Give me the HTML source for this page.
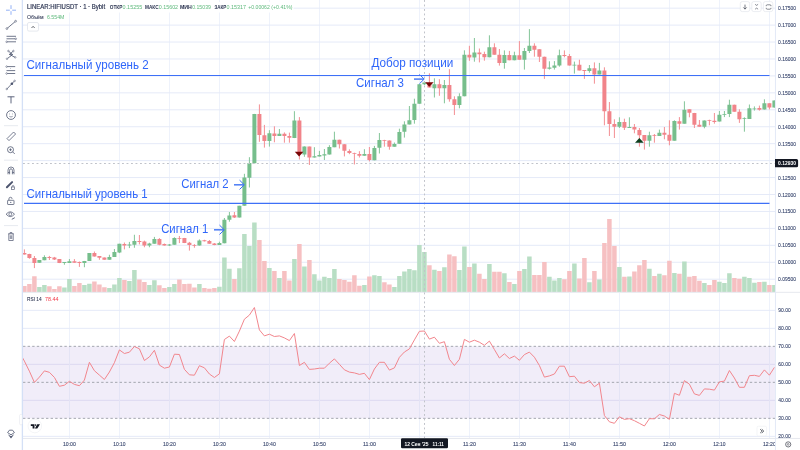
<!DOCTYPE html><html><head><meta charset="utf-8"><title>LINEAR:HIFIUSDT</title><style>
html,body{margin:0;padding:0;background:#fff;}
body{width:800px;height:450px;overflow:hidden;position:relative;font-family:'Liberation Sans', 'DejaVu Sans', sans-serif;}
svg{position:absolute;left:0;top:0;display:block;}
text{font-family:'Liberation Sans', 'DejaVu Sans', sans-serif;}
</style></head><body>
<svg width="800" height="450" viewBox="0 0 800 450">
<defs><clipPath id="cp"><rect x="23" y="0" width="752" height="292"/></clipPath><clipPath id="cr"><rect x="23" y="293" width="752" height="145"/></clipPath><clipPath id="cax"><rect x="776" y="293" width="24" height="145"/></clipPath><clipPath id="ct"><rect x="23" y="438" width="752" height="12"/></clipPath></defs>
<path d="M69.5 0V292M69.5 293V438M119.5 0V292M119.5 293V438M169.5 0V292M169.5 293V438M219.5 0V292M219.5 293V438M269.5 0V292M269.5 293V438M319.5 0V292M319.5 293V438M369.5 0V292M369.5 293V438M419.5 0V292M419.5 293V438M469.5 0V292M469.5 293V438M519.5 0V292M519.5 293V438M569.5 0V292M569.5 293V438M619.5 0V292M619.5 293V438M669.5 0V292M669.5 293V438M719.5 0V292M719.5 293V438M769.5 0V292M769.5 293V438" stroke="#eef2fb" stroke-width="1" fill="none"/>
<path d="M23 8.16H775M23 25.1H775M23 42.04H775M23 58.98H775M23 75.92H775M23 92.86H775M23 109.8H775M23 126.74H775M23 143.68H775M23 160.62H775M23 177.56H775M23 194.5H775M23 211.44H775M23 228.38H775M23 245.32H775M23 262.26H775M23 279.2H775M23 310.33H775M23 328.33H775M23 364.33H775M23 400.33H775M23 436.33H775" stroke="#e5eaf8" stroke-width="1" fill="none"/>
<rect x="23" y="346.33" width="752" height="72" fill="#f1edf9"/>
<path d="M23 364.33H775M23 400.33H775" stroke="#ddd9f1" stroke-width="1"/>
<path d="M69.5 346.33V418.33M119.5 346.33V418.33M169.5 346.33V418.33M219.5 346.33V418.33M269.5 346.33V418.33M319.5 346.33V418.33M369.5 346.33V418.33M419.5 346.33V418.33M469.5 346.33V418.33M519.5 346.33V418.33M569.5 346.33V418.33M619.5 346.33V418.33M669.5 346.33V418.33M719.5 346.33V418.33M769.5 346.33V418.33" stroke="#e4e4f5" stroke-width="1"/>
<path d="M23 346.33H775M23 382.33H775M23 418.33H775" stroke="#a3a6af" stroke-width="1" stroke-dasharray="2.4 2.2"/>
<g clip-path="url(#cp)">
<path d="M37.15 286.9h4.5V292h-4.5zM42.15 285h4.5V292h-4.5zM62.15 287.5h4.5V292h-4.5zM67.15 279.1h4.5V292h-4.5zM82.15 285h4.5V292h-4.5zM87.15 283.75h4.5V292h-4.5zM107.15 287.9h4.5V292h-4.5zM112.15 284.4h4.5V292h-4.5zM117.15 278h4.5V292h-4.5zM127.15 281h4.5V292h-4.5zM132.15 270h4.5V292h-4.5zM147.15 285h4.5V292h-4.5zM152.15 280.25h4.5V292h-4.5zM167.15 286.9h4.5V292h-4.5zM172.15 284h4.5V292h-4.5zM197.15 284h4.5V292h-4.5zM217.15 286.7h4.5V292h-4.5zM222.15 257.4h4.5V292h-4.5zM227.15 268.8h4.5V292h-4.5zM237.15 268.2h4.5V292h-4.5zM242.15 234h4.5V292h-4.5zM247.15 245.9h4.5V292h-4.5zM252.15 222.4h4.5V292h-4.5zM267.15 267.9h4.5V292h-4.5zM277.15 278.1h4.5V292h-4.5zM292.15 258.9h4.5V292h-4.5zM302.15 266.6h4.5V292h-4.5zM312.15 274.2h4.5V292h-4.5zM317.15 280.4h4.5V292h-4.5zM322.15 276.8h4.5V292h-4.5zM327.15 278.1h4.5V292h-4.5zM332.15 269.1h4.5V292h-4.5zM362.15 284.9h4.5V292h-4.5zM372.15 275.2h4.5V292h-4.5zM377.15 276h4.5V292h-4.5zM392.15 287.1h4.5V292h-4.5zM397.15 276h4.5V292h-4.5zM402.15 271.6h4.5V292h-4.5zM407.15 269.1h4.5V292h-4.5zM412.15 270.2h4.5V292h-4.5zM417.15 245h4.5V292h-4.5zM422.15 252h4.5V292h-4.5zM432.15 269.7h4.5V292h-4.5zM442.15 267.3h4.5V292h-4.5zM457.15 270h4.5V292h-4.5zM462.15 246.6h4.5V292h-4.5zM472.15 263.4h4.5V292h-4.5zM487.15 263.9h4.5V292h-4.5zM502.15 273.3h4.5V292h-4.5zM512.15 284h4.5V292h-4.5zM522.15 269.1h4.5V292h-4.5zM527.15 256.5h4.5V292h-4.5zM547.15 276.8h4.5V292h-4.5zM552.15 280.4h4.5V292h-4.5zM557.15 278.1h4.5V292h-4.5zM572.15 263.4h4.5V292h-4.5zM587.15 282.2h4.5V292h-4.5zM597.15 279.5h4.5V292h-4.5zM617.15 267h4.5V292h-4.5zM627.15 276.5h4.5V292h-4.5zM647.15 268.8h4.5V292h-4.5zM657.15 273.8h4.5V292h-4.5zM672.15 272.9h4.5V292h-4.5zM682.15 261.6h4.5V292h-4.5zM702.15 283.1h4.5V292h-4.5zM717.15 281.7h4.5V292h-4.5zM722.15 283.1h4.5V292h-4.5zM727.15 273.3h4.5V292h-4.5zM742.15 276.8h4.5V292h-4.5zM747.15 278.1h4.5V292h-4.5zM752.15 282.8h4.5V292h-4.5zM762.15 281.7h4.5V292h-4.5zM772.15 284.9h4.5V292h-4.5z" fill="#b8dec4"/>
<path d="M22.15 286h4.5V292h-4.5zM27.15 284h4.5V292h-4.5zM32.15 276.25h4.5V292h-4.5zM47.15 286.25h4.5V292h-4.5zM52.15 289h4.5V292h-4.5zM57.15 286.25h4.5V292h-4.5zM72.15 286h4.5V292h-4.5zM77.15 282.9h4.5V292h-4.5zM92.15 281.6h4.5V292h-4.5zM97.15 284.4h4.5V292h-4.5zM102.15 287.25h4.5V292h-4.5zM122.15 280h4.5V292h-4.5zM137.15 279.5h4.5V292h-4.5zM142.15 282h4.5V292h-4.5zM157.15 285.25h4.5V292h-4.5zM162.15 287.9h4.5V292h-4.5zM177.15 279.4h4.5V292h-4.5zM182.15 284h4.5V292h-4.5zM187.15 283.75h4.5V292h-4.5zM192.15 287.5h4.5V292h-4.5zM202.15 287.9h4.5V292h-4.5zM207.15 288.75h4.5V292h-4.5zM212.15 288.1h4.5V292h-4.5zM232.15 279h4.5V292h-4.5zM257.15 240h4.5V292h-4.5zM262.15 261h4.5V292h-4.5zM272.15 270.9h4.5V292h-4.5zM282.15 270.9h4.5V292h-4.5zM287.15 280.4h4.5V292h-4.5zM297.15 243.9h4.5V292h-4.5zM307.15 260.1h4.5V292h-4.5zM337.15 279h4.5V292h-4.5zM342.15 279.9h4.5V292h-4.5zM347.15 281.7h4.5V292h-4.5zM352.15 275.2h4.5V292h-4.5zM357.15 285.8h4.5V292h-4.5zM367.15 276.5h4.5V292h-4.5zM382.15 282.2h4.5V292h-4.5zM387.15 284.6h4.5V292h-4.5zM427.15 265.2h4.5V292h-4.5zM437.15 270.9h4.5V292h-4.5zM447.15 254.4h4.5V292h-4.5zM452.15 256.2h4.5V292h-4.5zM467.15 267h4.5V292h-4.5zM477.15 273.8h4.5V292h-4.5zM482.15 279h4.5V292h-4.5zM492.15 271.8h4.5V292h-4.5zM497.15 271.8h4.5V292h-4.5zM507.15 281.9h4.5V292h-4.5zM517.15 270.9h4.5V292h-4.5zM532.15 275h4.5V292h-4.5zM537.15 275h4.5V292h-4.5zM542.15 261.9h4.5V292h-4.5zM562.15 279.2h4.5V292h-4.5zM567.15 270.9h4.5V292h-4.5zM577.15 278.6h4.5V292h-4.5zM582.15 258h4.5V292h-4.5zM592.15 271h4.5V292h-4.5zM602.15 243h4.5V292h-4.5zM607.15 218.9h4.5V292h-4.5zM612.15 245.9h4.5V292h-4.5zM622.15 276.8h4.5V292h-4.5zM632.15 271.6h4.5V292h-4.5zM637.15 265.3h4.5V292h-4.5zM642.15 260.1h4.5V292h-4.5zM652.15 276h4.5V292h-4.5zM662.15 275.2h4.5V292h-4.5zM667.15 260.8h4.5V292h-4.5zM677.15 273.8h4.5V292h-4.5zM687.15 276.7h4.5V292h-4.5zM692.15 276h4.5V292h-4.5zM697.15 280.8h4.5V292h-4.5zM707.15 284.9h4.5V292h-4.5zM712.15 279.9h4.5V292h-4.5zM732.15 278.1h4.5V292h-4.5zM737.15 278.8h4.5V292h-4.5zM757.15 281.9h4.5V292h-4.5zM767.15 284.9h4.5V292h-4.5z" fill="#f6c0c2"/>
<path d="M39.4 260V262.75M44.4 255.3V260.25M64.4 262.1V264.75M69.4 259V262.9M84.4 260.9V267.25M89.4 253V260.9M109.4 254.75V259.75M114.4 249V256.9M119.4 243.75V253.1M129.4 241.9V248.1M134.4 234.75V247.75M149.4 242.75V247.25M154.4 236.9V243.75M169.4 244V246M174.4 237.25V244.75M199.4 239.4V245.6M219.4 241.7V245M224.4 218V243.3M229.4 212V221.7M239.4 205.8V217.5M244.4 173.8V205.8M249.4 157.2V187.5M254.4 113.9V163.3M269.4 130.2V146.6M279.4 129V135.9M294.4 111.2V138.1M304.4 146.4V156.8M314.4 147.2V157.6M319.4 150.9V156.4M324.4 149V160M329.4 145.2V154.6M334.4 131.7V147.2M364.4 149.2V155.8M374.4 145.9V160.3M379.4 133V153.5M394.4 142.5V146.7M399.4 128.7V143.7M404.4 121.3V137.6M409.4 106V124.4M414.4 98.7V123.7M419.4 84.2V103.8M424.4 81.3V85M434.4 78.3V97.5M444.4 80V103.3M459.4 93.3V108.3M464.4 50.3V96.3M474.4 38V61.7M489.4 35.3V57.3M504.4 50.4V68.7M514.4 51.7V60.3M524.4 48V69.6M529.4 29.1V53M549.4 61.3V69.6M554.4 61.1V69.6M559.4 49.6V66.7M574.4 61.6V73.6M589.4 65V72.7M599.4 62.9V74.4M619.4 117.3V128M629.4 117.3V128M649.4 131.7V146.7M659.4 129.6V136M674.4 120.3V140.7M684.4 101.3V123.7M704.4 120.4V128.3M719.4 111V121.6M724.4 111V117.1M729.4 99.7V117.1M744.4 117.3V131.7M749.4 104.5V118.9M754.4 106.4V110.6M764.4 99.3V109.6M774.4 100.5V107.6" stroke="#82c498" stroke-width="1" fill="none"/>
<path d="M24.4 249.4V254.6M29.4 253.75V258.75M34.4 256V268.1M49.4 255.9V260M54.4 256.9V260M59.4 259.1V263.1M74.4 259.1V262.75M79.4 261.5V266.9M94.4 251.5V256.6M99.4 256V259.75M104.4 257.5V259.75M124.4 242.5V249.4M139.4 235V244.4M144.4 240.6V247.25M159.4 238.1V245.25M164.4 243.5V245.6M179.4 236V243.1M184.4 237.9V243.1M189.4 241.9V250.6M194.4 244.1V247.75M204.4 239.75V241.5M209.4 240V243.75M214.4 243V245.25M234.4 212V218M259.4 104.4V141.8M264.4 124.9V147.6M274.4 126.3V142.3M284.4 132.4V142.7M289.4 132.6V142.7M299.4 117.1V159.5M309.4 146.6V165M339.4 139.7V148.5M344.4 144.2V156.4M349.4 149.3V154.2M354.4 152.7V164.5M359.4 151.2V157.5M369.4 147V161.4M384.4 139.8V146.7M389.4 140.4V149.7M429.4 73.3V87.5M439.4 79.2V95.8M449.4 69.2V101.7M454.4 96.3V115M469.4 45.8V60.8M479.4 48.5V62.4M484.4 51.7V60.7M494.4 43.3V54.7M499.4 49V65.6M509.4 50.9V60.3M519.4 41.1V59.7M534.4 43.3V56.7M539.4 49.3V62M544.4 56.7V78.9M564.4 50.4V57.3M569.4 54V65.6M579.4 59.7V70.4M584.4 70V78.9M594.4 62.4V83.7M604.4 67.3V125.3M609.4 102V136M614.4 119.3V138M624.4 118.7V130M634.4 124V133.3M639.4 128V146.7M644.4 135V149.6M654.4 134V142.7M664.4 127V139.3M669.4 120.3V145.3M679.4 117.1V129.6M689.4 109.3V117.3M694.4 112.9V128M699.4 120V126.7M709.4 119.7V125.3M714.4 113V123.7M734.4 104.7V111.7M739.4 109.3V122.9M759.4 105.6V110.6M769.4 103.3V109.4" stroke="#f38e93" stroke-width="1" fill="none"/>
<path d="M37.4 260h4v2.75h-4zM42.4 257.1h4v3.15h-4zM62.4 262.1h4v0.8h-4zM67.4 261.25h4v1.65h-4zM82.4 260.9h4v2.2h-4zM87.4 253h4v7.9h-4zM107.4 256.9h4v2.85h-4zM112.4 252.1h4v4.8h-4zM117.4 243.75h4v8.75h-4zM127.4 244.6h4v1h-4zM132.4 241h4v3.75h-4zM147.4 243.5h4v1.9h-4zM152.4 239.1h4v4.65h-4zM167.4 244.6h4v1h-4zM172.4 237.9h4v6.85h-4zM197.4 240.4h4v5.2h-4zM217.4 243h4v2h-4zM222.4 219.7h4v23.6h-4zM227.4 215.5h4v4.2h-4zM237.4 205.8h4v11.7h-4zM242.4 177.5h4v28.3h-4zM247.4 163.1h4v14.6h-4zM252.4 113.9h4v49.4h-4zM267.4 133.2h4v7.7h-4zM277.4 133.8h4v2.1h-4zM292.4 120.4h4v17.7h-4zM302.4 146.4h4v8.2h-4zM312.4 156.2h4v1.4h-4zM317.4 154.9h4v1.5h-4zM322.4 154.2h4v1.2h-4zM327.4 146.9h4v7.7h-4zM332.4 139.7h4v7.5h-4zM362.4 154h4v1.8h-4zM372.4 148h4v12.3h-4zM377.4 140h4v7.8h-4zM392.4 144h4v2.7h-4zM397.4 132h4v11.7h-4zM402.4 124.4h4v7.3h-4zM407.4 120.3h4v4.1h-4zM412.4 103.8h4v16.2h-4zM417.4 84.2h4v19.6h-4zM422.4 82.5h4v1.7h-4zM432.4 84.2h4v4.1h-4zM442.4 85h4v3.3h-4zM457.4 96.3h4v8.7h-4zM462.4 54.7h4v41.6h-4zM472.4 52.5h4v5h-4zM487.4 47.3h4v10h-4zM502.4 54.9h4v8h-4zM512.4 55.3h4v5h-4zM522.4 50.9h4v8.8h-4zM527.4 45.7h4v5.2h-4zM547.4 67.5h4v1.2h-4zM552.4 65.5h4v2.3h-4zM557.4 55.3h4v10.3h-4zM572.4 64.7h4v0.9h-4zM587.4 68.3h4v2.6h-4zM597.4 70.4h4v4h-4zM617.4 122h4v4.7h-4zM627.4 127h4v1h-4zM647.4 135.3h4v5.4h-4zM657.4 132.7h4v3.3h-4zM672.4 121h4v19.7h-4zM682.4 109.7h4v14h-4zM702.4 120.4h4v6.3h-4zM717.4 114.7h4v6.9h-4zM722.4 114h4v0.8h-4zM727.4 104.7h4v9.3h-4zM742.4 118.3h4v0.8h-4zM747.4 108.3h4v10.6h-4zM752.4 108.4h4v0.8h-4zM762.4 103.3h4v6.3h-4zM772.4 100.5h4v7.1h-4z" fill="#76be8c"/>
<path d="M22.4 252.9h4v1.7h-4zM27.4 254.1h4v4h-4zM32.4 258.1h4v4.8h-4zM47.4 256.9h4v1.2h-4zM52.4 257.5h4v1.9h-4zM57.4 259.1h4v4h-4zM72.4 261.25h4v1.5h-4zM77.4 262.1h4v0.8h-4zM92.4 253.1h4v3.5h-4zM97.4 256h4v1.75h-4zM102.4 257.5h4v2.25h-4zM122.4 244.1h4v1.5h-4zM137.4 240.9h4v1h-4zM142.4 241.6h4v3.8h-4zM157.4 239h4v5.75h-4zM162.4 244.1h4v1.5h-4zM177.4 237.9h4v0.85h-4zM182.4 237.9h4v5.2h-4zM187.4 242.75h4v2.25h-4zM192.4 245h4v0.8h-4zM202.4 240.25h4v1h-4zM207.4 241h4v2.75h-4zM212.4 243.5h4v1.6h-4zM232.4 215.2h4v2.3h-4zM257.4 113.9h4v21.1h-4zM262.4 135.2h4v5.7h-4zM272.4 133.4h4v2.5h-4zM282.4 133.8h4v2.1h-4zM287.4 135.9h4v1.9h-4zM297.4 120.4h4v32.3h-4zM307.4 146.6h4v11h-4zM337.4 139.7h4v4.5h-4zM342.4 144.2h4v6.5h-4zM347.4 151.1h4v2h-4zM352.4 153h4v0.8h-4zM357.4 153.9h4v1.9h-4zM367.4 153.9h4v6.1h-4zM382.4 140h4v0.8h-4zM387.4 140.4h4v6.3h-4zM427.4 83h4v4.5h-4zM437.4 84.2h4v4.1h-4zM447.4 85h4v14.2h-4zM452.4 99.2h4v5.8h-4zM467.4 54.7h4v2.8h-4zM477.4 52.4h4v1.9h-4zM482.4 54h4v3.3h-4zM492.4 47.3h4v7.4h-4zM497.4 54.7h4v8.2h-4zM507.4 55.1h4v5.2h-4zM517.4 55.3h4v4.4h-4zM532.4 45.7h4v4h-4zM537.4 49.3h4v7.4h-4zM542.4 56.7h4v12h-4zM562.4 55.1h4v0.9h-4zM567.4 56h4v9.6h-4zM577.4 64.7h4v5.7h-4zM582.4 70h4v0.9h-4zM592.4 68.3h4v6.1h-4zM602.4 70.4h4v40.9h-4zM607.4 111.3h4v12.7h-4zM612.4 124h4v2.7h-4zM622.4 122h4v5.7h-4zM632.4 127h4v2.6h-4zM637.4 130h4v5.3h-4zM642.4 135h4v5.7h-4zM652.4 135h4v0.8h-4zM662.4 132.7h4v2h-4zM667.4 134.7h4v6h-4zM677.4 121.3h4v2.4h-4zM687.4 109.3h4v3.4h-4zM692.4 112.9h4v11.8h-4zM697.4 124.7h4v2h-4zM707.4 120h4v0.8h-4zM712.4 120.7h4v1.3h-4zM732.4 104.7h4v7h-4zM737.4 111.7h4v7.6h-4zM757.4 108h4v1.7h-4zM767.4 103.3h4v4.3h-4z" fill="#f1848a"/>
</g>
<g clip-path="url(#cr)"><polyline points="21,355 24.4,361.1 29.4,371.2 34.4,382.4 39.4,377.1 44.4,370.9 49.4,372.3 54.4,377.4 59.4,386.3 64.4,385.2 69.4,381.3 74.4,384.4 79.4,385.7 84.4,380.1 89.4,362.3 94.4,370.7 99.4,375.1 104.4,379.5 109.4,372 114.4,362.7 119.4,349.9 124.4,353.5 129.4,352.2 134.4,346.5 139.4,348.8 144.4,360.5 149.4,356.9 154.4,350.3 159.4,365.1 164.4,368.2 169.4,367 174.4,354.2 179.4,354.5 184.4,369.3 189.4,374.8 194.4,375.2 199.4,365.7 204.4,367.8 209.4,374 214.4,377.5 219.4,373.8 224.4,339.5 229.4,336.1 234.4,341.5 239.4,331.1 244.4,319.2 249.4,315.1 254.4,307.5 259.4,329.9 264.4,335.9 269.4,334.2 274.4,336.5 279.4,335.9 284.4,337.9 289.4,340.6 294.4,333.5 299.4,365.5 304.4,362.3 309.4,369.4 314.4,369 319.4,368.2 324.4,368.2 329.4,363.2 334.4,358.9 339.4,364.3 344.4,369.8 349.4,372.1 354.4,372.9 359.4,374.4 364.4,373.3 369.4,379.6 374.4,369 379.4,362.3 384.4,362.3 389.4,370.1 394.4,367.9 399.4,357.3 404.4,352 409.4,348.9 414.4,339.9 419.4,331.3 424.4,331 429.4,339.1 434.4,337.2 439.4,343.3 444.4,341.7 449.4,359.3 454.4,365.5 459.4,359.3 464.4,339.4 469.4,342.2 474.4,340.2 479.4,342.2 484.4,345.3 489.4,341.1 494.4,349.5 499.4,358 504.4,353.8 509.4,358.5 514.4,356.1 519.4,360.3 524.4,354.6 529.4,352.1 534.4,357.2 539.4,365.5 544.4,377.1 549.4,375.9 554.4,374 559.4,366.2 564.4,366.2 569.4,376.7 574.4,376.2 579.4,382.6 584.4,383.2 589.4,380.5 594.4,386.8 599.4,383.2 604.4,415.5 609.4,421.8 614.4,423.3 619.4,416.8 624.4,419.4 629.4,418.7 634.4,420.7 639.4,423.3 644.4,426 649.4,418.7 654.4,418.8 659.4,414.5 664.4,416 669.4,419.4 674.4,393.3 679.4,395.3 684.4,380.6 689.4,384.2 694.4,393.9 699.4,395.4 704.4,388.9 709.4,389.2 714.4,390.1 719.4,381.9 724.4,381.1 729.4,370.5 734.4,378 739.4,387.3 744.4,387.3 749.4,375.7 754.4,375.3 759.4,376.4 764.4,369.9 769.4,375.2 774.4,367.4" fill="none" stroke="#f2868d" stroke-width="1" stroke-linejoin="round"/></g>
<path d="M23 292.33H800M23 438.44H800" stroke="#e6e8ee" stroke-width="1"/>
<path d="M775.44 0V450" stroke="#e3e9f7" stroke-width="1"/>
<path d="M22.4 0V450" stroke="#d4e0f6" stroke-width="1.3"/>
<path d="M424.5 0V438" stroke="#c0c3ca" stroke-width="1" stroke-dasharray="1.9 2.6"/>
<path d="M23 163.5H775" stroke="#c0c3ca" stroke-width="1" stroke-dasharray="1.9 2.6"/>
<path d="M24 75.5H769.5M24 203.3H769.5" stroke="#3e70f7" stroke-width="1.15"/>
<path d="M294.8 151.8H303.4L299.1 156.4Z" fill="#7a0505"/>
<path d="M425.1 82.2H433.6L429.3 86.7Z" fill="#7a0505"/>
<path d="M635 142.7H643.7L639.35 138Z" fill="#0b3d1c"/>
<path d="M214 229.8H223.7" stroke="#5583f6" stroke-width="1.6" fill="none"/><path d="M219.8 225.4L224.3 229.8L219.8 234.2" stroke="#3b6ff7" stroke-width="1" fill="none" stroke-linecap="round" stroke-linejoin="round"/>
<path d="M234 184.8H243.7" stroke="#5583f6" stroke-width="1.6" fill="none"/><path d="M239.8 180.4L244.3 184.8L239.8 189.2" stroke="#3b6ff7" stroke-width="1" fill="none" stroke-linecap="round" stroke-linejoin="round"/>
<path d="M414 79.1H423.6" stroke="#5583f6" stroke-width="1.6" fill="none"/><path d="M419.7 74.7L424.2 79.1L419.7 83.5" stroke="#3b6ff7" stroke-width="1" fill="none" stroke-linecap="round" stroke-linejoin="round"/>
<text x="26.5" y="68.9" font-size="11.9" fill="#2f66fa" textLength="122.2" lengthAdjust="spacingAndGlyphs">Сигнальный уровень 2</text>
<text x="26.5" y="197.9" font-size="11.9" fill="#2f66fa" textLength="121.2" lengthAdjust="spacingAndGlyphs">Сигнальный уровень 1</text>
<text x="161.2" y="232.8" font-size="11.9" fill="#2f66fa" textLength="47.2" lengthAdjust="spacingAndGlyphs">Сигнал 1</text>
<text x="181.2" y="188.2" font-size="11.9" fill="#2f66fa" textLength="47.4" lengthAdjust="spacingAndGlyphs">Сигнал 2</text>
<text x="356" y="86.7" font-size="11.9" fill="#2f66fa" textLength="47.9" lengthAdjust="spacingAndGlyphs">Сигнал 3</text>
<text x="371.4" y="66.9" font-size="11.9" fill="#2f66fa" textLength="82" lengthAdjust="spacingAndGlyphs">Добор позиции</text>
<text x="778.1" y="10.16" font-size="5.9" fill="#36446c" stroke="#36446c" stroke-width="0.1" textLength="17.8" lengthAdjust="spacingAndGlyphs">0.17500</text>
<text x="778.1" y="27.1" font-size="5.9" fill="#36446c" stroke="#36446c" stroke-width="0.1" textLength="17.8" lengthAdjust="spacingAndGlyphs">0.17000</text>
<text x="778.1" y="44.04" font-size="5.9" fill="#36446c" stroke="#36446c" stroke-width="0.1" textLength="17.8" lengthAdjust="spacingAndGlyphs">0.16500</text>
<text x="778.1" y="60.98" font-size="5.9" fill="#36446c" stroke="#36446c" stroke-width="0.1" textLength="17.8" lengthAdjust="spacingAndGlyphs">0.16000</text>
<text x="778.1" y="77.92" font-size="5.9" fill="#36446c" stroke="#36446c" stroke-width="0.1" textLength="17.8" lengthAdjust="spacingAndGlyphs">0.15500</text>
<text x="778.1" y="94.86" font-size="5.9" fill="#36446c" stroke="#36446c" stroke-width="0.1" textLength="17.8" lengthAdjust="spacingAndGlyphs">0.15000</text>
<text x="778.1" y="111.8" font-size="5.9" fill="#36446c" stroke="#36446c" stroke-width="0.1" textLength="17.8" lengthAdjust="spacingAndGlyphs">0.14500</text>
<text x="778.1" y="128.74" font-size="5.9" fill="#36446c" stroke="#36446c" stroke-width="0.1" textLength="17.8" lengthAdjust="spacingAndGlyphs">0.14000</text>
<text x="778.1" y="145.68" font-size="5.9" fill="#36446c" stroke="#36446c" stroke-width="0.1" textLength="17.8" lengthAdjust="spacingAndGlyphs">0.13500</text>
<text x="778.1" y="179.56" font-size="5.9" fill="#36446c" stroke="#36446c" stroke-width="0.1" textLength="17.8" lengthAdjust="spacingAndGlyphs">0.12500</text>
<text x="778.1" y="196.5" font-size="5.9" fill="#36446c" stroke="#36446c" stroke-width="0.1" textLength="17.8" lengthAdjust="spacingAndGlyphs">0.12000</text>
<text x="778.1" y="213.44" font-size="5.9" fill="#36446c" stroke="#36446c" stroke-width="0.1" textLength="17.8" lengthAdjust="spacingAndGlyphs">0.11500</text>
<text x="778.1" y="230.38" font-size="5.9" fill="#36446c" stroke="#36446c" stroke-width="0.1" textLength="17.8" lengthAdjust="spacingAndGlyphs">0.11000</text>
<text x="778.1" y="247.32" font-size="5.9" fill="#36446c" stroke="#36446c" stroke-width="0.1" textLength="17.8" lengthAdjust="spacingAndGlyphs">0.10500</text>
<text x="778.1" y="264.26" font-size="5.9" fill="#36446c" stroke="#36446c" stroke-width="0.1" textLength="17.8" lengthAdjust="spacingAndGlyphs">0.10000</text>
<text x="778.1" y="281.2" font-size="5.9" fill="#36446c" stroke="#36446c" stroke-width="0.1" textLength="17.8" lengthAdjust="spacingAndGlyphs">0.09500</text>
<text x="778.3" y="312.08" font-size="5.9" fill="#36446c" clip-path="url(#cax)" stroke="#36446c" stroke-width="0.1" textLength="12.4" lengthAdjust="spacingAndGlyphs">90.00</text>
<text x="778.3" y="330.08" font-size="5.9" fill="#36446c" clip-path="url(#cax)" stroke="#36446c" stroke-width="0.1" textLength="12.4" lengthAdjust="spacingAndGlyphs">80.00</text>
<text x="778.3" y="348.08" font-size="5.9" fill="#36446c" clip-path="url(#cax)" stroke="#36446c" stroke-width="0.1" textLength="12.4" lengthAdjust="spacingAndGlyphs">70.00</text>
<text x="778.3" y="366.08" font-size="5.9" fill="#36446c" clip-path="url(#cax)" stroke="#36446c" stroke-width="0.1" textLength="12.4" lengthAdjust="spacingAndGlyphs">60.00</text>
<text x="778.3" y="384.08" font-size="5.9" fill="#36446c" clip-path="url(#cax)" stroke="#36446c" stroke-width="0.1" textLength="12.4" lengthAdjust="spacingAndGlyphs">50.00</text>
<text x="778.3" y="402.08" font-size="5.9" fill="#36446c" clip-path="url(#cax)" stroke="#36446c" stroke-width="0.1" textLength="12.4" lengthAdjust="spacingAndGlyphs">40.00</text>
<text x="778.3" y="420.08" font-size="5.9" fill="#36446c" clip-path="url(#cax)" stroke="#36446c" stroke-width="0.1" textLength="12.4" lengthAdjust="spacingAndGlyphs">30.00</text>
<text x="778.3" y="438.08" font-size="5.9" fill="#36446c" clip-path="url(#cax)" stroke="#36446c" stroke-width="0.1" textLength="12.4" lengthAdjust="spacingAndGlyphs">20.00</text>
<path d="M775 159H796.5a1.6 1.6 0 0 1 1.6 1.6V165.7a1.6 1.6 0 0 1 -1.6 1.6H775Z" fill="#131722"/>
<text x="778" y="165.4" font-size="5.7" fill="#ffffff" textLength="17.9" lengthAdjust="spacingAndGlyphs" font-weight="bold">0.12930</text>
<g clip-path="url(#ct)">
<text x="62.9" y="446.1" font-size="5.9" fill="#36446c" stroke="#36446c" stroke-width="0.1" textLength="13" lengthAdjust="spacingAndGlyphs">10:00</text>
<text x="113.2" y="446.1" font-size="5.9" fill="#36446c" stroke="#36446c" stroke-width="0.1" textLength="12.4" lengthAdjust="spacingAndGlyphs">10:10</text>
<text x="162.9" y="446.1" font-size="5.9" fill="#36446c" stroke="#36446c" stroke-width="0.1" textLength="13" lengthAdjust="spacingAndGlyphs">10:20</text>
<text x="212.9" y="446.1" font-size="5.9" fill="#36446c" stroke="#36446c" stroke-width="0.1" textLength="13" lengthAdjust="spacingAndGlyphs">10:30</text>
<text x="262.9" y="446.1" font-size="5.9" fill="#36446c" stroke="#36446c" stroke-width="0.1" textLength="13" lengthAdjust="spacingAndGlyphs">10:40</text>
<text x="312.9" y="446.1" font-size="5.9" fill="#36446c" stroke="#36446c" stroke-width="0.1" textLength="13" lengthAdjust="spacingAndGlyphs">10:50</text>
<text x="362.9" y="446.1" font-size="5.9" fill="#36446c" stroke="#36446c" stroke-width="0.1" textLength="13" lengthAdjust="spacingAndGlyphs">11:00</text>
<text x="462.9" y="446.1" font-size="5.9" fill="#36446c" stroke="#36446c" stroke-width="0.1" textLength="13" lengthAdjust="spacingAndGlyphs">11:20</text>
<text x="512.9" y="446.1" font-size="5.9" fill="#36446c" stroke="#36446c" stroke-width="0.1" textLength="13" lengthAdjust="spacingAndGlyphs">11:30</text>
<text x="562.9" y="446.1" font-size="5.9" fill="#36446c" stroke="#36446c" stroke-width="0.1" textLength="13" lengthAdjust="spacingAndGlyphs">11:40</text>
<text x="612.9" y="446.1" font-size="5.9" fill="#36446c" stroke="#36446c" stroke-width="0.1" textLength="13" lengthAdjust="spacingAndGlyphs">11:50</text>
<text x="662.9" y="446.1" font-size="5.9" fill="#36446c" stroke="#36446c" stroke-width="0.1" textLength="13" lengthAdjust="spacingAndGlyphs">12:00</text>
<text x="713.2" y="446.1" font-size="5.9" fill="#36446c" stroke="#36446c" stroke-width="0.1" textLength="12.4" lengthAdjust="spacingAndGlyphs">12:10</text>
<text x="762.9" y="446.1" font-size="5.9" fill="#36446c" stroke="#36446c" stroke-width="0.1" textLength="13" lengthAdjust="spacingAndGlyphs">12:20</text>
</g>
<rect x="401" y="438.2" width="47" height="10" rx="1.2" fill="#131722"/>
<text x="404.4" y="446.1" font-size="5.7" fill="#ffffff" textLength="24.2" lengthAdjust="spacingAndGlyphs" font-weight="bold">12 Сен '25</text>
<text x="432.6" y="446.1" font-size="5.7" fill="#ffffff" textLength="11.2" lengthAdjust="spacingAndGlyphs" font-weight="bold">11:11</text>
<rect x="23" y="2" width="270.5" height="10.5" fill="#fff"/>
<text x="27" y="9.1" font-size="6.5" fill="#2a3350" stroke="#2a3350" stroke-width="0.18" textLength="78.1" lengthAdjust="spacingAndGlyphs">LINEAR:HIFIUSDT · 1 · Bybit</text>
<text x="109.8" y="9" font-size="5.6" fill="#2a3350" textLength="12.6" lengthAdjust="spacingAndGlyphs" font-weight="bold">ОТКР</text>
<text x="122.6" y="9" font-size="5.6" fill="#5cb87a" textLength="19.6" lengthAdjust="spacingAndGlyphs">0.15255</text>
<text x="145" y="9" font-size="5.6" fill="#2a3350" textLength="13.6" lengthAdjust="spacingAndGlyphs" font-weight="bold">МАКС</text>
<text x="158.8" y="9" font-size="5.6" fill="#5cb87a" textLength="19.3" lengthAdjust="spacingAndGlyphs">0.15602</text>
<text x="180" y="9" font-size="5.6" fill="#2a3350" textLength="11.9" lengthAdjust="spacingAndGlyphs" font-weight="bold">МИН</text>
<text x="192.2" y="9" font-size="5.6" fill="#5cb87a" textLength="18.7" lengthAdjust="spacingAndGlyphs">0.15039</text>
<text x="214.5" y="9" font-size="5.6" fill="#2a3350" textLength="11.8" lengthAdjust="spacingAndGlyphs" font-weight="bold">ЗАКР</text>
<text x="226.5" y="9" font-size="5.6" fill="#5cb87a" textLength="19.5" lengthAdjust="spacingAndGlyphs">0.15317</text>
<text x="248.3" y="9" font-size="5.6" fill="#5cb87a" textLength="21.5" lengthAdjust="spacingAndGlyphs">+0.00062</text>
<text x="271.3" y="9" font-size="5.6" fill="#5cb87a" textLength="21.2" lengthAdjust="spacingAndGlyphs">(+0.41%)</text>
<text x="27" y="18.8" font-size="5.8" fill="#2a3350" stroke="#2a3350" stroke-width="0.08" textLength="16.5" lengthAdjust="spacingAndGlyphs">Объём</text>
<text x="47" y="18.8" font-size="5.6" fill="#5cb87a" textLength="17.5" lengthAdjust="spacingAndGlyphs">6.554M</text>
<rect x="27.5" y="22.5" width="11" height="8.6" rx="1.5" fill="#fff" stroke="#e0e3eb" stroke-width="0.8"/>
<path d="M31.6 27.9L33.1 26.4L34.6 27.9" stroke="#2a2e39" stroke-width="0.8" fill="none"/>
<text x="27" y="301.1" font-size="5.7" fill="#2a3350" stroke="#2a3350" stroke-width="0.08" textLength="14.6" lengthAdjust="spacingAndGlyphs">RSI 14</text>
<text x="45" y="301.1" font-size="5.6" fill="#f23645" textLength="13.4" lengthAdjust="spacingAndGlyphs">78.44</text>
<rect x="740.3" y="1.6" width="9.4" height="10" rx="2" fill="#fff" stroke="#e6e8ee" stroke-width="0.8"/>
<rect x="751.8" y="1.6" width="9.4" height="10" rx="2" fill="#fff" stroke="#e6e8ee" stroke-width="0.8"/>
<rect x="763.4" y="1.6" width="9.4" height="10" rx="2" fill="#fff" stroke="#e6e8ee" stroke-width="0.8"/>
<path d="M745 4.6V9.2M743.3 7.4L745 9.1L746.7 7.4" stroke="#3a3f4d" stroke-width="0.7" fill="none"/>
<path d="M755.1 4.3L756.6 5.4L758.1 4.3M755.1 9.2L756.6 8.1L758.1 9.2" stroke="#3a3f4d" stroke-width="0.6" fill="none"/>
<path d="M766.2 6.2V5.8Q766.2 4.8 767.2 4.8H770Q771 4.8 771 5.8V6.2M766.2 7.8V8.2Q766.2 9.2 767.2 9.2H770Q771 9.2 771 8.2V7.8" stroke="#3a3f4d" stroke-width="0.6" fill="none"/>
<rect x="757" y="426.2" width="9.6" height="9.8" rx="1.5" fill="#fff" stroke="#eceef2" stroke-width="0.6"/>
<path d="M760.2 429.2L762.2 431.1L760.2 433M761.8 429.2L763.8 431.1L761.8 433" stroke="#2a2e39" stroke-width="0.7" fill="none"/>
<circle cx="788.2" cy="444.4" r="2.6" fill="none" stroke="#50535e" stroke-width="0.8"/><circle cx="788.2" cy="444.4" r="0.9" fill="none" stroke="#50535e" stroke-width="0.6"/>
<circle cx="34.8" cy="426" r="6.8" fill="#fff" stroke="#eceef2" stroke-width="0.6"/>
<path d="M30.8 424.2H34.5V428.5H32.6V425.9H30.8Z M37.3 424.2H40L37.3 428.5H34.9Z" fill="#131722"/>
<circle cx="35.6" cy="425.1" r="0.8" fill="#131722"/>
<path d="M11 5.2V9M11 11.2V14.8M6 10.2H9.8M12.2 10.2H16" stroke="#6f97f3" stroke-width="0.75" fill="none"/>
<path d="M7 28.5L15.5 21.3" stroke="#4d556f" stroke-width="0.8"/><circle cx="6.9" cy="28.6" r="0.9" fill="#fff" stroke="#4d556f" stroke-width="0.6"/><circle cx="15.6" cy="21.2" r="0.9" fill="#fff" stroke="#4d556f" stroke-width="0.6"/><path d="M6.5 36.3H16M6.5 38.8H16M6.5 41.8H16" stroke="#4d556f" stroke-width="0.8"/><circle cx="15.8" cy="38.8" r="0.8" fill="#fff" stroke="#4d556f" stroke-width="0.5"/><circle cx="6.6" cy="41.8" r="0.8" fill="#fff" stroke="#4d556f" stroke-width="0.5"/><path d="M8.4 51L12.6 54.6L7 58.8M13.4 51L9.4 54.4L15.2 57.4M9.4 54.4H12.6" stroke="#4d556f" stroke-width="0.8" fill="none"/><circle cx="8.4" cy="51" r="0.8" fill="#fff" stroke="#4d556f" stroke-width="0.5"/><circle cx="13.4" cy="51" r="0.8" fill="#fff" stroke="#4d556f" stroke-width="0.5"/><circle cx="7" cy="58.8" r="0.8" fill="#fff" stroke="#4d556f" stroke-width="0.5"/><circle cx="15.2" cy="57.4" r="0.8" fill="#fff" stroke="#4d556f" stroke-width="0.5"/><path d="M6.5 66.6H15.2M6.5 70.6H15.2M6.5 73.5H15.2" stroke="#4d556f" stroke-width="0.8"/><circle cx="6.6" cy="66.6" r="0.8" fill="#fff" stroke="#4d556f" stroke-width="0.5"/><circle cx="6.6" cy="73.5" r="0.8" fill="#fff" stroke="#4d556f" stroke-width="0.5"/><circle cx="10.6" cy="68.6" r="0.35" fill="#4d556f"/><path d="M6.6 89.3L14.8 80.6" stroke="#4d556f" stroke-width="0.8"/><circle cx="11.9" cy="83.7" r="1.3" fill="#4d556f"/><circle cx="6.8" cy="89" r="0.8" fill="#fff" stroke="#4d556f" stroke-width="0.5"/><circle cx="14.6" cy="80.9" r="0.8" fill="#fff" stroke="#4d556f" stroke-width="0.5"/><path d="M7.5 96.8H14.5M11 96.8V103.4" stroke="#4d556f" stroke-width="0.9"/><circle cx="11" cy="115" r="4.4" fill="none" stroke="#4d556f" stroke-width="0.8"/><path d="M9.3 116.3Q11 117.8 12.7 116.3" stroke="#4d556f" stroke-width="0.6" fill="none"/><circle cx="9.6" cy="113.9" r="0.45" fill="#4d556f"/><circle cx="12.4" cy="113.9" r="0.45" fill="#4d556f"/><path d="M4 125.7H18" stroke="#e0e3eb" stroke-width="0.8"/><path d="M7 138.6L13.6 132L15.6 134L9 140.6Z" fill="none" stroke="#4d556f" stroke-width="0.75"/><circle cx="10.5" cy="149.7" r="3" fill="none" stroke="#4d556f" stroke-width="0.8"/><path d="M12.7 151.9L14.8 154M9.2 149.7H11.8M10.5 148.4V151" stroke="#4d556f" stroke-width="0.75"/><path d="M4 160.2H18" stroke="#e0e3eb" stroke-width="0.8"/><path d="M8 174.3V170A3 3 0 0 1 14 170V174.3M8 172.5H9.6M12.4 172.5H14M9.6 174.3V170.2A1.4 1.4 0 0 1 12.4 170.2V174.3" stroke="#4d556f" stroke-width="0.75" fill="none"/><path d="M6.9 187.3L12.1 182.1" stroke="#4d556f" stroke-width="2" stroke-linecap="round"/><rect x="11.6" y="187" width="3" height="2.6" fill="none" stroke="#4d556f" stroke-width="0.65"/><path d="M12.3 187V186.1A0.8 0.8 0 0 1 13.9 186.1V187" stroke="#4d556f" stroke-width="0.55" fill="none"/><rect x="7.6" y="200.3" width="6.4" height="4.2" rx="0.5" fill="none" stroke="#4d556f" stroke-width="0.75"/><path d="M8.9 200.3V198.9A1.6 1.6 0 0 1 12.1 198.9" stroke="#4d556f" stroke-width="0.75" fill="none"/><circle cx="10.8" cy="202.4" r="0.55" fill="#4d556f"/><path d="M6.1 214.2Q10.3 209.4 14.5 214.2Q10.3 219 6.1 214.2Z" fill="none" stroke="#4d556f" stroke-width="0.75"/><circle cx="10.3" cy="214.2" r="1.5" fill="none" stroke="#4d556f" stroke-width="0.65"/><path d="M11.8 219.3L14.8 217.7" stroke="#4d556f" stroke-width="0.9"/><path d="M4 225.6H18" stroke="#e0e3eb" stroke-width="0.8"/><path d="M8.2 233.8H13.8M10 233.8V232.6H12V233.8M8.8 233.8V240.5H13.2V233.8M10.3 235.3V239M11.7 235.3V239" stroke="#4d556f" stroke-width="0.7" fill="none"/><path d="M7.6 432.6L9.4 430.2H12.6L14.4 432.6L11 434.8Z" fill="none" stroke="#4d556f" stroke-width="0.8"/><path d="M7.8 434.2L11 438.4L14.2 434.2L11 436.2Z" fill="#4d556f"/>
<rect x="19.6" y="414.3" width="2.6" height="10.6" rx="1.3" fill="#fff" stroke="#e0e3eb" stroke-width="0.5"/>
</svg></body></html>
